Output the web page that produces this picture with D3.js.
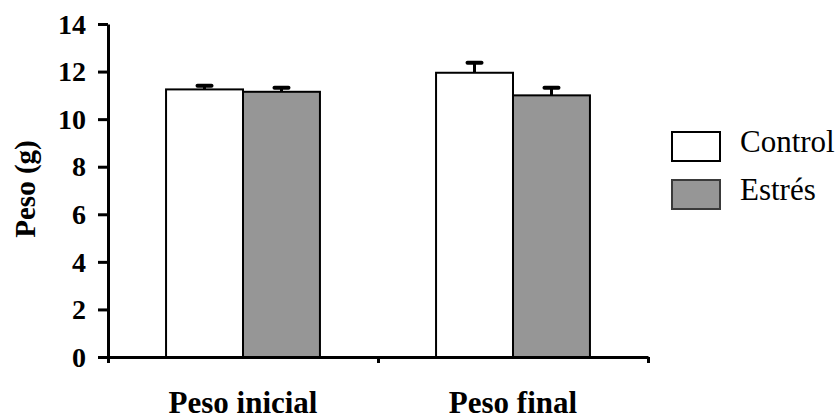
<!DOCTYPE html>
<html>
<head>
<meta charset="utf-8">
<script src="https://cdn.jsdelivr.net/npm/d3@7"></script>
<style>
    body { margin: 0; background: #fff; }
</style>
</head>
<body>
<svg id="plot" width="840" height="420"></svg>
<script>

// Data.

const groups = ["Peso inicial", "Peso final"];
const series = ["Control", "Estrés"];
const control = [11.25, 11.95];
const estres = [11.15, 11.0];
const controlErr = [0.15, 0.42];
const estresErr = [0.17, 0.32];
const yTicks = [0, 2, 4, 6, 8, 10, 12, 14];

const colors = { "Control": "#ffffff", "Estrés": "#969696" };
const legendStroke = { "Control": "#000", "Estrés": "#3a3a3a" };
const FONT = '"Liberation Serif", "Times New Roman", serif';

const db = groups.map((g, i) => ({
    "group": g,
    "bars": [
        { "name": "Control", "value": control[i], "err": controlErr[i] },
        { "name": "Estrés", "value": estres[i], "err": estresErr[i] },
    ],
}));

const plot = d3.select("#plot");

const margin = { "T": 24, "B": 63, "L": 108, "R": 192 };
const width = 840, height = 420;

// Scales.

const xScale = d3.scaleBand()
    .domain(groups)
    .range([margin.L, width - margin.R])
    .paddingInner(0.43)
    .paddingOuter(0.215);

const xSub = d3.scaleBand()
    .domain(series)
    .range([0, xScale.bandwidth()]);

const yScale = d3.scaleLinear()
    .domain([0, 14])
    .range([height - margin.B, margin.T]);

// y Axis.

const yAx = plot.append("g")
    .attr("transform", `translate(${margin.L}, 0)`)
    .call(d3.axisLeft(yScale).tickValues(yTicks).tickSize(10).tickSizeOuter(0).tickPadding(12));

yAx.selectAll("path, line").attr("stroke", "#000").attr("stroke-width", 3);
yAx.selectAll("text")
    .style("font-family", FONT)
    .attr("font-size", 28)
    .attr("font-weight", "bold")
    .attr("fill", "#000")
    .attr("dy", "0.33em");

// x Axis (ticks between groups, labels underneath).

const xEdge = d3.scaleLinear().domain([0, groups.length]).range([margin.L, width - margin.R]);

const xAx = plot.append("g")
    .attr("transform", `translate(0, ${height - margin.B})`)
    .call(d3.axisBottom(xEdge).tickValues(d3.range(groups.length + 1)).tickSize(6).tickSizeOuter(0).tickFormat(""));

xAx.selectAll("path, line").attr("stroke", "#000").attr("stroke-width", 3);

plot.append("g")
    .selectAll("text")
    .data(groups)
    .join("text")
        .attr("x", d => xScale(d) + xScale.bandwidth() / 2)
        .attr("y", 413)
        .attr("text-anchor", "middle")
        .style("font-family", FONT)
        .attr("font-size", 31)
        .attr("font-weight", "bold")
        .text(d => d);

// y label.

plot.append("text")
    .attr("transform", `translate(35, 189) rotate(-90)`)
    .attr("text-anchor", "middle")
    .style("font-family", FONT)
    .attr("font-size", 29)
    .attr("font-weight", "bold")
    .text("Peso (g)");

// Bars.

const grp = plot.append("g")
    .selectAll("g")
    .data(db)
    .join("g")
        .attr("transform", d => `translate(${xScale(d.group)}, 0)`);

grp.selectAll("rect")
    .data(d => d.bars)
    .join("rect")
        .attr("x", d => xSub(d.name))
        .attr("y", d => yScale(d.value))
        .attr("width", xSub.bandwidth())
        .attr("height", d => yScale(0) - yScale(d.value))
        .attr("fill", d => colors[d.name])
        .attr("stroke", "#000")
        .attr("stroke-width", 2);

// Error bars (upper only).

grp.selectAll("line.err")
    .data(d => d.bars)
    .join("line")
        .attr("class", "err")
        .attr("x1", d => xSub(d.name) + xSub.bandwidth() / 2)
        .attr("x2", d => xSub(d.name) + xSub.bandwidth() / 2)
        .attr("y1", d => yScale(d.value))
        .attr("y2", d => yScale(d.value + d.err))
        .attr("stroke", "#000")
        .attr("stroke-width", 3);

grp.selectAll("line.cap")
    .data(d => d.bars)
    .join("line")
        .attr("class", "cap")
        .attr("x1", d => xSub(d.name) + xSub.bandwidth() / 2 - 7)
        .attr("x2", d => xSub(d.name) + xSub.bandwidth() / 2 + 7)
        .attr("y1", d => yScale(d.value + d.err))
        .attr("y2", d => yScale(d.value + d.err))
        .attr("stroke", "#000")
        .attr("stroke-width", 4)
        .attr("stroke-linecap", "round");

// Legend.

const legend = plot.append("g")
    .selectAll("g")
    .data(series)
    .join("g")
        .attr("transform", (d, i) => `translate(672, ${132 + i * 48})`);

legend.append("rect")
    .attr("width", 48)
    .attr("height", 29)
    .attr("fill", d => colors[d])
    .attr("stroke", d => legendStroke[d])
    .attr("stroke-width", 2);

legend.append("text")
    .attr("x", 68)
    .attr("y", 20)
    .style("font-family", FONT)
    .attr("font-size", 31)
    .text(d => d);

</script>
</body>
</html>
